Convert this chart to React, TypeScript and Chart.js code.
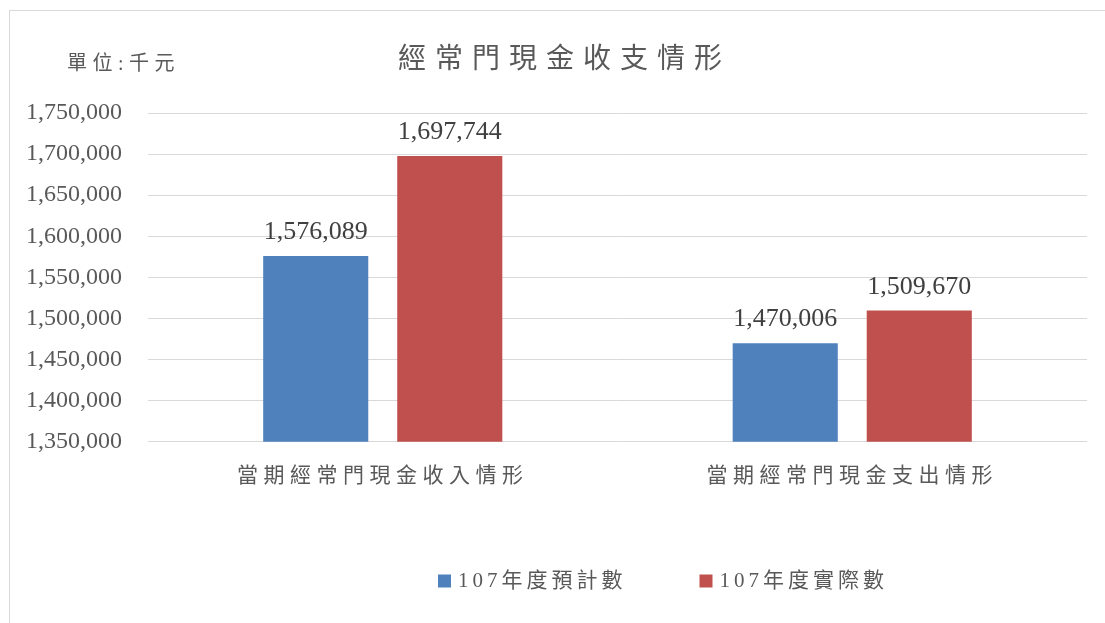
import React, { useEffect, useRef } from "react";
import { Chart, registerables } from "chart.js";

Chart.register(...registerables);

const chartTitle = "經常門現金收支情形";
const unitLabel = "單位:千元";
const categories = ["當期經常門現金收入情形", "當期經常門現金支出情形"];
const seriesNames = ["107年度預計數", "107年度實際數"];
const budgetValues = [1576089, 1470006];
const actualValues = [1697744, 1509670];
const seriesColors = ["#4f81bd", "#c0504d"];
const yMin = 1350000;
const yMax = 1750000;
const yStep = 50000;

const FONT_FAMILY = '"Liberation Serif", "Noto Sans CJK TC", serif';
const TEXT_COLOR = "#595959";

const fmt = (v: number) => v.toLocaleString("en-US");

const decorPlugin = {
  id: "decor",
  beforeDraw(chart: any) {
    chart.ctx.letterSpacing = "5.5px";
  },
  beforeDatasetsDraw(chart: any) {
    chart.ctx.letterSpacing = "0px";
  },
  afterDatasetsDraw(chart: any) {
    const ctx = chart.ctx;
    ctx.save();
    ctx.letterSpacing = "0px";
    ctx.font = `26px ${FONT_FAMILY}`;
    ctx.fillStyle = "#404040";
    ctx.textAlign = "center";
    ctx.textBaseline = "alphabetic";
    chart.data.datasets.forEach((ds: any, di: number) => {
      const meta = chart.getDatasetMeta(di);
      meta.data.forEach((el: any, i: number) => {
        ctx.fillText(fmt(ds.data[i]), el.x, el.y - 17);
      });
    });
    ctx.restore();
  },
  afterDraw(chart: any) {
    const ctx = chart.ctx;
    ctx.save();
    // title
    ctx.letterSpacing = "9px";
    ctx.font = `28px ${FONT_FAMILY}`;
    ctx.fillStyle = TEXT_COLOR;
    ctx.textAlign = "center";
    ctx.textBaseline = "middle";
    ctx.fillText(chartTitle, chart.width / 2 + 7, 50);
    // unit label
    ctx.letterSpacing = "5.5px";
    ctx.font = `20px ${FONT_FAMILY}`;
    ctx.textAlign = "left";
    ctx.fillText(unitLabel, 57, 54);
    // legend
    ctx.letterSpacing = "4px";
    ctx.font = `21px ${FONT_FAMILY}`;
    const boxSize = 13;
    const legendY = 570;
    let x = 428;
    chart.data.datasets.forEach((ds: any) => {
      ctx.fillStyle = ds.backgroundColor;
      ctx.fillRect(x, legendY - boxSize / 2, boxSize, boxSize);
      x += boxSize + 7;
      ctx.fillStyle = TEXT_COLOR;
      ctx.fillText(ds.label, x, legendY);
      x += ctx.measureText(ds.label).width + 73;
    });
    ctx.restore();
    ctx.letterSpacing = "0px";
  },
};

export default function App() {
  const canvasRef = useRef<HTMLCanvasElement | null>(null);

  useEffect(() => {
    if (!canvasRef.current) return;
    const chart = new Chart(canvasRef.current, {
      type: "bar",
      data: {
        labels: categories,
        datasets: [
          {
            label: seriesNames[0],
            data: budgetValues,
            backgroundColor: seriesColors[0],
            categoryPercentage: 0.571,
            barPercentage: 0.784,
          },
          {
            label: seriesNames[1],
            data: actualValues,
            backgroundColor: seriesColors[1],
            categoryPercentage: 0.571,
            barPercentage: 0.784,
          },
        ],
      },
      options: {
        animation: false,
        responsive: false,
        devicePixelRatio: 1,
        layout: { padding: { left: 17, right: 18, top: 102, bottom: 120 } },
        plugins: {
          legend: { display: false },
          title: { display: false },
          tooltip: { enabled: false },
        },
        scales: {
          x: {
            grid: { display: false },
            border: { display: false },
            ticks: {
              color: TEXT_COLOR,
              font: { family: FONT_FAMILY, size: 21 },
              padding: 14,
              maxRotation: 0,
              autoSkip: false,
            },
          },
          y: {
            min: yMin,
            max: yMax,
            afterFit(scale: any) {
              scale.width = 121;
            },
            grid: { color: "#d9d9d9", lineWidth: 1, drawTicks: false },
            border: { display: false },
            ticks: {
              z: 1,
              stepSize: yStep,
              color: TEXT_COLOR,
              padding: 26,
              font: { family: FONT_FAMILY, size: 24 },
              callback: (v: any) => fmt(Number(v)),
            },
          },
        },
      },
      plugins: [decorPlugin],
    });
    return () => chart.destroy();
  }, []);

  return (
    <div
      style={{
        position: "fixed",
        left: 0,
        top: 0,
        width: 1105,
        height: 623,
        overflow: "hidden",
        background: "#fff",
      }}
    >
      <div
        style={{
          position: "absolute",
          left: 9,
          top: 10,
          width: 1120,
          height: 640,
          border: "1px solid #d9d9d9",
          background: "#fff",
        }}
      >
        <canvas ref={canvasRef} width={1095} height={612} style={{ display: "block" }} />
      </div>
    </div>
  );
}
